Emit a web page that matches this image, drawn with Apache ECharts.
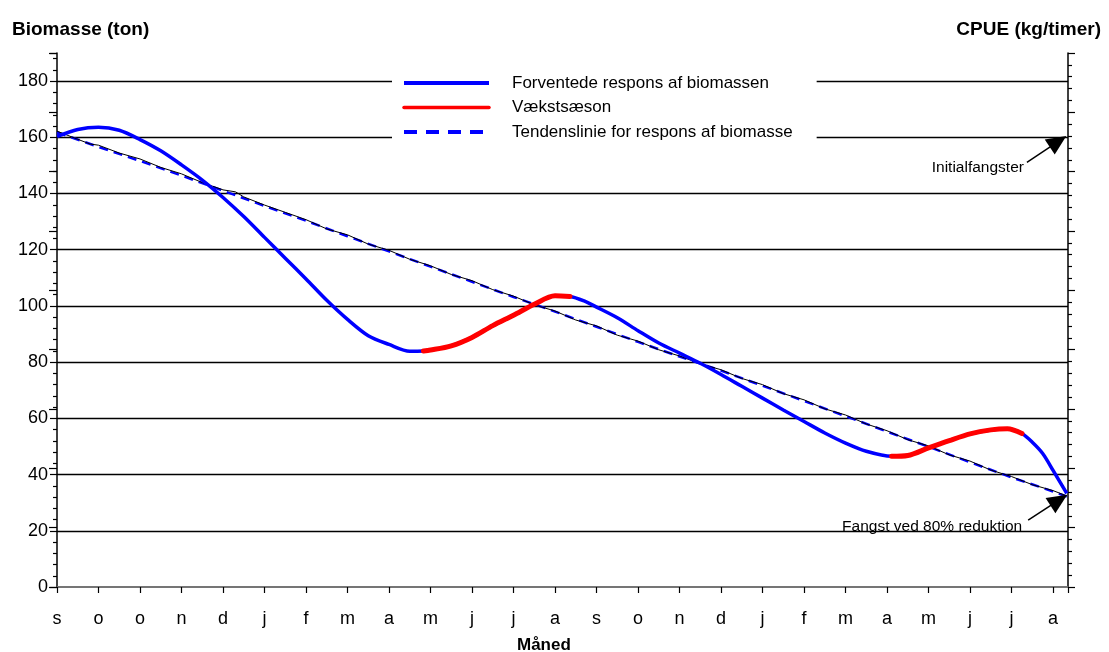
<!DOCTYPE html>
<html><head><meta charset="utf-8">
<script src="https://cdn.jsdelivr.net/npm/echarts@6/dist/echarts.min.js"></script>
<style>html,body{margin:0;padding:0;background:#fff}#c{width:1109px;height:652px}</style>
</head><body><div id="c"></div>
<script>
// x = months since start (0 = first "s" tick)
const monthLabels = ['s','o','o','n','d','j','f','m','a','m','j','j','a','s','o','n','d','j','f','m','a','m','j','j','a'];
const xMax = 24.36;
const yMaxLeft = 190;

const responseCurve = [
  [0,160.3],[0.5,162.8],[1.0,163.6],[1.5,162.5],[2.0,159.2],[2.5,155.2],[3.0,150.2],[3.5,144.8],
  [4.0,138.6],[4.5,131.8],[5.0,124.4],[5.5,117.0],[6.0,109.6],[6.5,102.0],[7.0,95.2],[7.5,89.4],
  [8.0,86.3],[8.5,83.9],[8.83,84.0],[9.0,84.3],[9.5,85.8],[10.0,88.8],[10.5,93.0],[11.0,96.7],
  [11.5,100.6],[12.0,103.6],[12.36,103.4],[12.7,101.8],[13.0,99.6],[13.5,95.8],[14.0,91.2],
  [14.5,86.8],[15.0,83.2],[15.5,79.6],[16.0,75.6],[16.5,71.4],[17.0,67.2],[17.5,63.0],[18.0,58.9],
  [18.5,54.8],[19.0,51.2],[19.5,48.3],[20.11,46.5],[20.5,46.8],[21.0,49.5],[21.5,52.1],[22.0,54.5],
  [22.5,55.9],[22.9,56.3],[23.25,54.6],[23.5,51.5],[23.75,47.5],[24.0,41.5],[24.33,33.3]
];
const growthSeason1 = [[8.83,84.0],[9.0,84.3],[9.5,85.8],[10.0,88.8],[10.5,93.0],[11.0,96.7],[11.5,100.6],[12.0,103.6],[12.36,103.4]];
const growthSeason2 = [[20.11,46.5],[20.5,46.8],[21.0,49.5],[21.5,52.1],[22.0,54.5],[22.5,55.9],[22.9,56.3],[23.25,54.6]];
const trendLine = [
  [0,161.8],[1,156.6],[2,151.6],[3,146.4],[4,141.0],[5,135.6],[6,130.3],[7,124.8],[8,119.4],
  [9,114.0],[10,108.6],[11,103.2],[12,98.0],[13,92.6],[14,87.2],[15,82.0],[16,77.0],[17,71.6],
  [18,66.2],[19,60.8],[20,55.3],[21,49.9],[22,44.4],[23,39.0],[24,34.0],[24.33,32.2]
];
const trendRaw = [
  [0,162.2],[0.5,159.3],[0.8,157.6],[1,157.2],[1.5,154.4],[2,152.3],[2.5,149.3],[3,147.0],[3.5,143.9],
  [4,141.3],[4.3,140.6],[4.5,138.8],[5,135.9],[5.5,133.3],[6,130.7],[6.5,127.4],[7,125.3],[7.5,122.0],
  [8,119.8],[8.5,116.6],[9,114.3],[9.5,111.2],[10,109.0],[10.5,105.8],[11,103.5],[11.5,100.4],
  [12,98.2],[12.5,95.0],[13,92.9],[13.5,89.6],[14,87.5],[14.5,84.4],[15,82.2],[15.5,79.4],[16,77.3],
  [16.5,74.2],[17,72.0],[17.5,68.8],[18,66.6],[18.5,63.4],[19,61.2],[19.5,58.0],[20,55.6],[20.5,52.4],
  [21,50.2],[21.5,47.0],[22,44.8],[22.5,41.6],[23,39.3],[23.5,36.4],[24,34.3],[24.33,32.4]
];
const annotations = [
  {name:'Initialfangster', tail:[23.37,151.1], head:[24.12,158.5], off:[-3,5]},
  {name:'Fangst ved 80% reduktion', tail:[23.4,23.8], head:[24.14,30.9], off:[-6,7]}
];
const legendNames = ['Forventede respons af biomassen','Vækstsæson','Tendenslinie for respons af biomasse'];

const FONT = '"Liberation Sans", Arial, sans-serif';
const chart = echarts.init(document.getElementById('c'), null, {renderer:'canvas'});
chart.setOption({
  animation:false,
  textStyle:{fontFamily:FONT,color:'#000'},
  title:[
    {text:'Biomasse (ton)', left:7, top:15, textStyle:{fontFamily:FONT,fontWeight:'bold',fontSize:19,color:'#000'}},
    {text:'CPUE (kg/timer)', right:3, top:15, textStyle:{fontFamily:FONT,fontWeight:'bold',fontSize:19,color:'#000'}},
    {text:'Måned', left:512, top:632, textStyle:{fontFamily:FONT,fontWeight:'bold',fontSize:17,color:'#000'}}
  ],
  grid:{left:57,right:41,top:53,bottom:65,containLabel:false},
  legend:{
    data:[
      {name:legendNames[0]},
      {name:legendNames[1], lineStyle:{width:3.5}},
      {name:legendNames[2], lineStyle:{type:[13,9],width:4}}
    ],
    orient:'vertical', left:392, top:65,
    backgroundColor:'#fff', padding:[8,24,8,10],
    itemWidth:85, itemHeight:14, itemGap:4.5,
    itemStyle:{opacity:0},
    lineStyle:{width:4},
    textStyle:{fontFamily:FONT,fontSize:17,color:'#000',lineHeight:20,padding:[0,0,0,18]}
  },
  xAxis:[
    {type:'value', min:0, max:xMax, interval:1, position:'bottom',
     axisLine:{show:true,onZero:false,lineStyle:{color:'#000',width:1.5}},
     axisTick:{show:true,length:6,lineStyle:{color:'#000',width:1.2}},
     axisLabel:{margin:23,fontSize:18,fontFamily:FONT,color:'#000',
       formatter:v=>{const i=Math.round(v);return Math.abs(v-i)<1e-6&&i<monthLabels.length?monthLabels[i]:'';}},
     splitLine:{show:false}},
    {type:'value', min:0, max:xMax, position:'top',
     axisLine:{show:true,lineStyle:{color:'#888',width:1.5}},
     axisTick:{show:false},axisLabel:{show:false},splitLine:{show:false}}
  ],
  yAxis:[
    {type:'value', min:0, max:yMaxLeft, interval:20, position:'left',
     axisLine:{show:true,onZero:false,lineStyle:{color:'#000',width:1.5}},
     axisTick:{show:true,length:7,lineStyle:{color:'#000',width:1.2}},
     minorTick:{show:true,splitNumber:5,length:4,lineStyle:{color:'#000',width:1.2}},
     axisLabel:{margin:9,fontSize:18,fontFamily:FONT,color:'#000',formatter:v=>v%20===0?String(v):''},
     splitLine:{show:true,showMinLine:false,showMaxLine:false,lineStyle:{color:'#000',width:1.3}}},
    {type:'value', min:0, max:9, interval:1, position:'right',
     axisLine:{show:true,onZero:false,lineStyle:{color:'#000',width:1.5}},
     axisTick:{show:true,length:7,lineStyle:{color:'#000',width:1.2}},
     minorTick:{show:true,splitNumber:5,length:4,lineStyle:{color:'#000',width:1.2}},
     axisLabel:{show:false},splitLine:{show:false}},
    {type:'value', min:0, max:9, interval:1, position:'right',
     axisLine:{show:false},
     axisTick:{show:true,inside:true,length:8,lineStyle:{color:'#000',width:1.2}},
     axisLabel:{show:false},splitLine:{show:false}}
  ],
  series:[
    {name:legendNames[2], type:'line', data:trendLine, showSymbol:false, symbol:'none', z:3,
     itemStyle:{color:'#0000ff'}, lineStyle:{color:'#0000ff',width:2.5,type:[9,6]}},
    {name:'raw', type:'line', data:trendRaw, showSymbol:false, symbol:'none', z:4,
     itemStyle:{color:'#000'}, lineStyle:{color:'#000',width:1}},
    {name:legendNames[0], type:'line', data:responseCurve, smooth:0.3, showSymbol:false, symbol:'none', z:5,
     itemStyle:{color:'#0000ff'}, lineStyle:{color:'#0000ff',width:3.5}},
    {name:legendNames[1], type:'line', data:growthSeason1, smooth:0.3, showSymbol:false, symbol:'none', z:6,
     itemStyle:{color:'#ff0000'}, lineStyle:{color:'#ff0000',width:5,cap:'round'}},
    {name:legendNames[1], type:'line', data:growthSeason2, smooth:0.3, showSymbol:false, symbol:'none', z:6,
     itemStyle:{color:'#ff0000'}, lineStyle:{color:'#ff0000',width:5,cap:'round'}},
    {name:'annot', type:'line', data:[], z:7, symbol:'none',
     markLine:{silent:true, symbol:['none','triangle'], symbolSize:[18,20], precision:3,
       lineStyle:{color:'#000',width:1.5,type:'solid'}, label:{show:false},
       data:annotations.map(a=>[{coord:a.tail},{coord:a.head}])}}
  ]
});
// annotation texts, anchored to the data position of each arrow tail
chart.setOption({
  graphic:annotations.map(a=>{
    const p = chart.convertToPixel({gridIndex:0}, a.tail);
    return {type:'text', z:100, x:p[0]+a.off[0], y:p[1]+a.off[1],
      style:{text:a.name, fill:'#000', font:'15.5px "Liberation Sans", Arial, sans-serif',
             align:'right', verticalAlign:'middle'}};
  })
});
</script></body></html>
